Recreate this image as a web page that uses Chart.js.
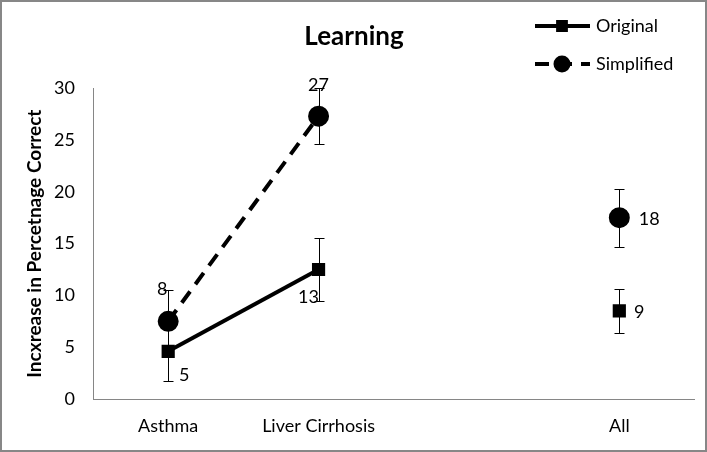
<!DOCTYPE html>
<html>
<head>
<meta charset="utf-8">
<script src="https://cdn.jsdelivr.net/npm/chart.js@4.4.1/dist/chart.umd.min.js"></script>
<style>
  html, body { margin: 0; padding: 0; background: #fff; }
  #wrap { width: 707px; height: 452px; }
</style>
</head>
<body>
<div id="wrap"><canvas id="myChart" width="707" height="452"></canvas></div>
<script>
// 数据
const categories = ['Asthma', 'Liver Cirrhosis', '', 'All'];
const originalValues = [4.6, 12.5, null, 8.5];
const simplifiedValues = [7.5, 27.3, null, 17.5];
// 误差（±）
const originalErrors = [2.9, 3.0, null, 2.1];
const simplifiedErrors = [3.0, 2.7, null, 2.8];
const yTicks = [0, 5, 10, 15, 20, 25, 30];

// 标签偏移（样式）
const originalLabelOffsets = [[16, 24], [-10, 28], null, [20, 1]];
const simplifiedLabelOffsets = [[-6, -32], [0, -31], null, [30, 1]];

const FONT = 'Lato, "Open Sans", sans-serif';

// 误差线 + 数值标签 + 图例 + 边框
const extras = {
  id: 'extras',
  beforeDraw(chart) {
    const c = chart.ctx;
    c.save();
    c.fillStyle = '#fff';
    c.fillRect(0, 0, chart.width, chart.height);
    c.restore();
  },
  afterDatasetsDraw(chart) {
    const c = chart.ctx;
    const y = chart.scales.y;
    const errs = [originalErrors, simplifiedErrors];
    c.save();
    c.strokeStyle = '#000';
    c.lineWidth = 1;
    chart.data.datasets.forEach((ds, di) => {
      const meta = chart.getDatasetMeta(di);
      ds.data.forEach((v, i) => {
        if (v == null) return;
        const e = errs[di][i];
        const px = Math.round(meta.data[i].x) + 0.5;
        const top = Math.round(y.getPixelForValue(v + e)) + 0.5;
        const bot = Math.round(y.getPixelForValue(v - e)) + 0.5;
        c.beginPath();
        c.moveTo(px, top); c.lineTo(px, bot);
        c.moveTo(px - 5, top); c.lineTo(px + 5, top);
        c.moveTo(px - 5, bot); c.lineTo(px + 5, bot);
        c.stroke();
      });
    });
    c.restore();
  },
  afterDraw(chart) {
    const c = chart.ctx;
    const offs = [originalLabelOffsets, simplifiedLabelOffsets];
    c.save();
    // 数值标签
    c.fillStyle = '#000';
    c.font = '18px ' + FONT;
    c.textAlign = 'center';
    c.textBaseline = 'middle';
    chart.data.datasets.forEach((ds, di) => {
      const meta = chart.getDatasetMeta(di);
      ds.data.forEach((v, i) => {
        if (v == null) return;
        const o = offs[di][i];
        c.fillText(String(Math.round(v)), meta.data[i].x + o[0], meta.data[i].y + o[1]);
      });
    });
    // 图例（标记比图中略小）
    const items = [
      { y: 26, r: 5.5, ds: chart.data.datasets[0] },
      { y: 64, r: 6.5, ds: chart.data.datasets[1] }
    ];
    items.forEach(it => {
      c.strokeStyle = '#000';
      c.lineWidth = 4;
      c.setLineDash(it.ds.borderDash || []);
      c.beginPath();
      c.moveTo(535, it.y); c.lineTo(590, it.y);
      c.stroke();
      c.setLineDash([]);
      Chart.helpers.drawPoint(c, {
        pointStyle: it.ds.pointStyle,
        radius: it.r,
        borderWidth: 1
      }, 562, it.y);
      c.fillStyle = '#000';
      c.fill();
      c.font = '18px ' + FONT;
      c.textAlign = 'left';
      c.fillText(it.ds.label, 596, it.y);
    });
    // 外框
    c.strokeStyle = '#878787';
    c.lineWidth = 2;
    c.strokeRect(1, 1, chart.width - 2, chart.height - 2);
    c.restore();
  }
};

document.addEventListener('DOMContentLoaded', () => {
  const ctx = document.getElementById('myChart');
  new Chart(ctx, {
    type: 'line',
    data: {
      labels: categories,
      datasets: [
        {
          label: 'Original',
          data: originalValues,
          borderColor: '#000',
          backgroundColor: '#000',
          borderWidth: 4,
          pointStyle: 'rect',
          pointRadius: 6.5,
          pointBackgroundColor: '#000',
          pointBorderColor: '#000',
          tension: 0,
          spanGaps: false
        },
        {
          label: 'Simplified',
          data: simplifiedValues,
          borderColor: '#000',
          backgroundColor: '#000',
          borderWidth: 4,
          borderDash: [14, 9],
          pointStyle: 'circle',
          pointRadius: 8.5,
          pointBackgroundColor: '#000',
          pointBorderColor: '#000',
          tension: 0,
          spanGaps: false
        }
      ]
    },
    options: {
      responsive: false,
      animation: false,
      events: [],
      layout: {
        padding: { left: 13, right: 12, top: 0, bottom: 0 }
      },
      plugins: {
        legend: { display: false },
        tooltip: { enabled: false },
        title: {
          display: true,
          text: 'Learning',
          color: '#000',
          font: { family: FONT, size: 26, weight: 'bold' },
          padding: { top: 21, bottom: 36 }
        }
      },
      scales: {
        x: {
          offset: true,
          grid: { display: false, drawTicks: false },
          border: { display: true, color: '#868686', width: 1 },
          ticks: {
            color: '#000',
            font: { family: FONT, size: 18 },
            padding: 16,
            maxRotation: 0,
            autoSkip: false
          },
          afterFit(scale) { scale.height = 53; }
        },
        y: {
          min: 0,
          max: 30,
          afterBuildTicks(scale) { scale.ticks = yTicks.map(v => ({ value: v })); },
          grid: { display: false, drawTicks: false },
          border: { display: true, color: '#868686', width: 1 },
          ticks: {
            color: '#000',
            font: { family: FONT, size: 18 },
            padding: 18
          },
          title: {
            display: true,
            text: 'Incxrease in Percetnage Correct',
            color: '#000',
            font: { family: FONT, size: 19, weight: 'bold' },
            padding: { top: 10, bottom: 0 }
          },
          afterFit(scale) { scale.width = 80; }
        }
      }
    },
    plugins: [extras]
  });
});
</script>
</body>
</html>
